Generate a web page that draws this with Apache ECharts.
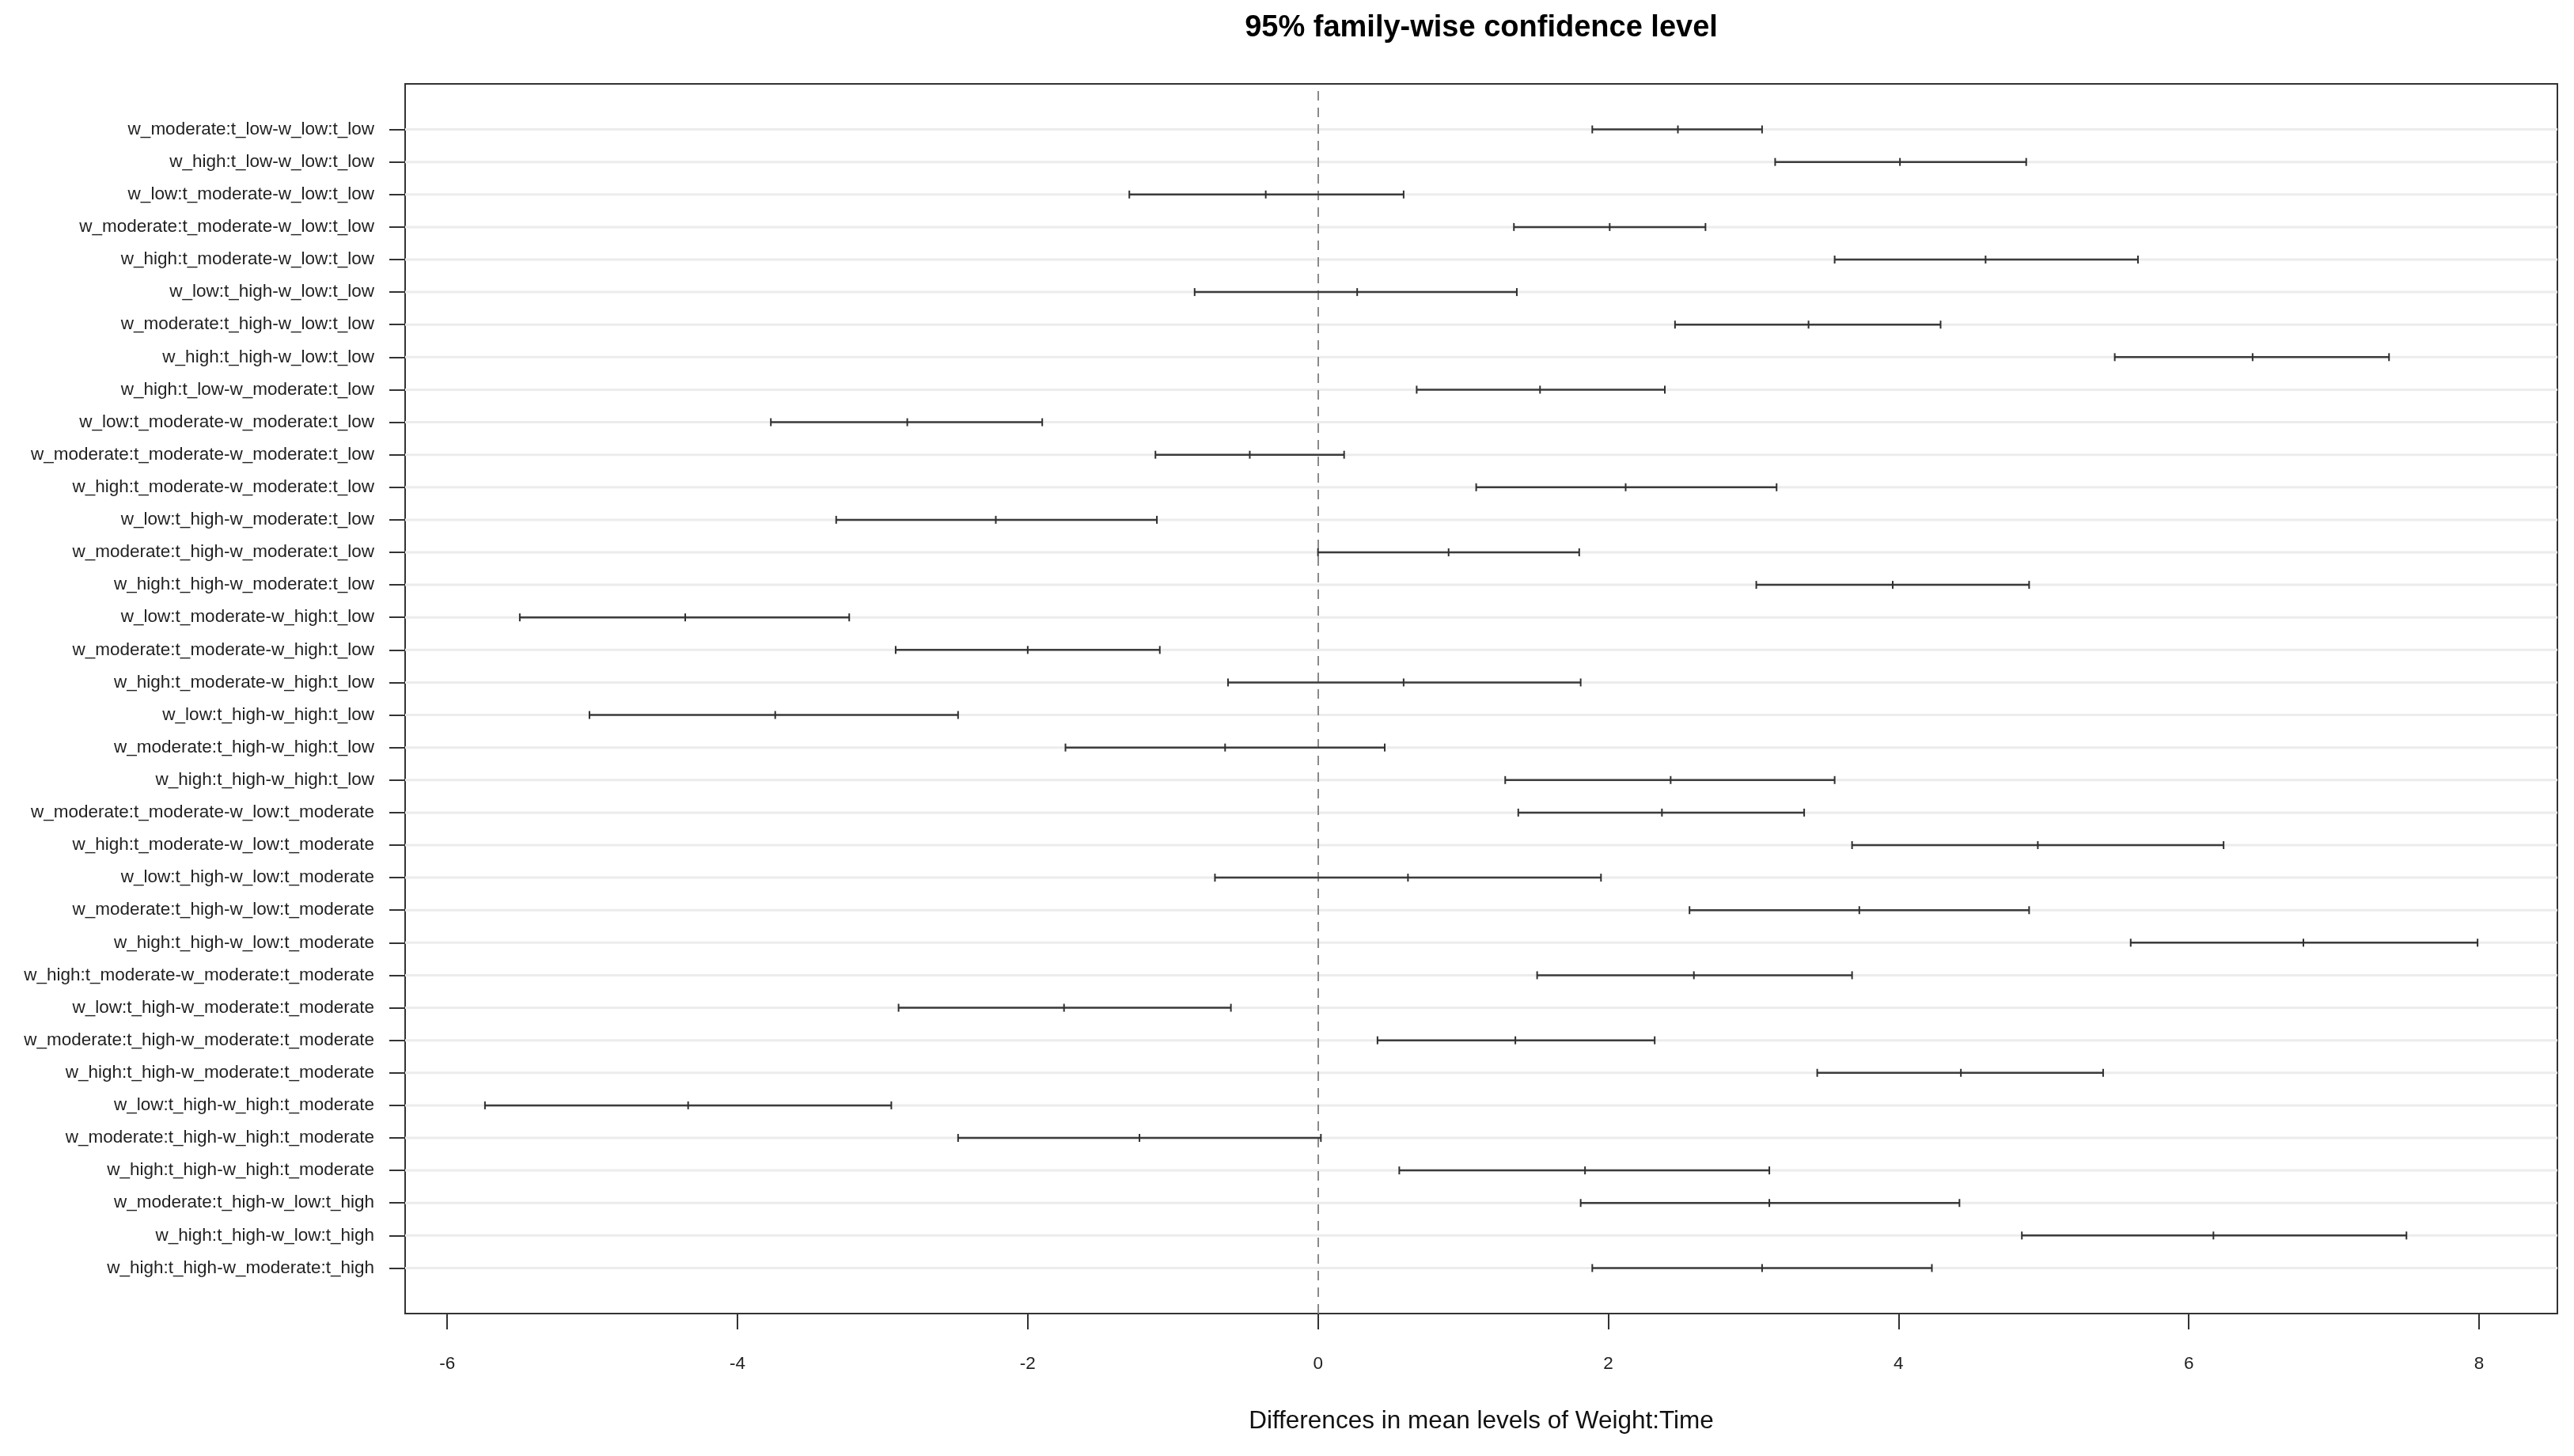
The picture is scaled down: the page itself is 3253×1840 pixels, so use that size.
<!DOCTYPE html>
<html>
<head>
<meta charset="utf-8">
<script src="https://cdn.jsdelivr.net/npm/echarts@6/dist/echarts.min.js"></script>
<style>
html,body{margin:0;padding:0;background:#ffffff;}
#chart{width:3253px;height:1840px;}
</style>
</head>
<body>
<div id="chart"></div>
<script>
// ---- data (top to bottom as in the reference) ----
const categories = [
  "w_moderate:t_low-w_low:t_low",
  "w_high:t_low-w_low:t_low",
  "w_low:t_moderate-w_low:t_low",
  "w_moderate:t_moderate-w_low:t_low",
  "w_high:t_moderate-w_low:t_low",
  "w_low:t_high-w_low:t_low",
  "w_moderate:t_high-w_low:t_low",
  "w_high:t_high-w_low:t_low",
  "w_high:t_low-w_moderate:t_low",
  "w_low:t_moderate-w_moderate:t_low",
  "w_moderate:t_moderate-w_moderate:t_low",
  "w_high:t_moderate-w_moderate:t_low",
  "w_low:t_high-w_moderate:t_low",
  "w_moderate:t_high-w_moderate:t_low",
  "w_high:t_high-w_moderate:t_low",
  "w_low:t_moderate-w_high:t_low",
  "w_moderate:t_moderate-w_high:t_low",
  "w_high:t_moderate-w_high:t_low",
  "w_low:t_high-w_high:t_low",
  "w_moderate:t_high-w_high:t_low",
  "w_high:t_high-w_high:t_low",
  "w_moderate:t_moderate-w_low:t_moderate",
  "w_high:t_moderate-w_low:t_moderate",
  "w_low:t_high-w_low:t_moderate",
  "w_moderate:t_high-w_low:t_moderate",
  "w_high:t_high-w_low:t_moderate",
  "w_high:t_moderate-w_moderate:t_moderate",
  "w_low:t_high-w_moderate:t_moderate",
  "w_moderate:t_high-w_moderate:t_moderate",
  "w_high:t_high-w_moderate:t_moderate",
  "w_low:t_high-w_high:t_moderate",
  "w_moderate:t_high-w_high:t_moderate",
  "w_high:t_high-w_high:t_moderate",
  "w_moderate:t_high-w_low:t_high",
  "w_high:t_high-w_low:t_high",
  "w_high:t_high-w_moderate:t_high"
];
const lwr = [1.89, 3.15, -1.30, 1.35, 3.56, -0.85, 2.46, 5.49, 0.68, -3.77, -1.12, 1.09,
             -3.32, 0.00, 3.02, -5.50, -2.91, -0.62, -5.02, -1.74, 1.29, 1.38, 3.68, -0.71,
             2.56, 5.60, 1.51, -2.89, 0.41, 3.44, -5.74, -2.48, 0.56, 1.81, 4.85, 1.89];
const diff = [2.48, 4.01, -0.36, 2.01, 4.60, 0.27, 3.38, 6.44, 1.53, -2.83, -0.47, 2.12,
              -2.22, 0.90, 3.96, -4.36, -2.00, 0.59, -3.74, -0.64, 2.43, 2.37, 4.96, 0.62,
              3.73, 6.79, 2.59, -1.75, 1.36, 4.43, -4.34, -1.23, 1.84, 3.11, 6.17, 3.06];
const upr = [3.06, 4.88, 0.59, 2.67, 5.65, 1.37, 4.29, 7.38, 2.39, -1.90, 0.18, 3.16,
             -1.11, 1.80, 4.90, -3.23, -1.09, 1.81, -2.48, 0.46, 3.56, 3.35, 6.24, 1.95,
             4.90, 7.99, 3.68, -0.60, 2.32, 5.41, -2.94, 0.02, 3.11, 4.42, 7.50, 4.23];
const xTicks = [-6, -4, -2, 0, 2, 4, 6, 8];
const titleText = "95% family-wise confidence level";
const xTitle = "Differences in mean levels of Weight:Time";

// ---- build ----
const n = categories.length;
const yVals = categories.map((c, i) => n - i);
const rows = categories.map((c, i) => [lwr[i], diff[i], upr[i], yVals[i]]);
const gridRows = yVals.map(v => [0, v]);

const FONT = "'Liberation Sans', Arial, Helvetica, sans-serif";
const INK = '#333333';

function renderGridRow(params, api) {
  const p = api.coord([api.value(0), api.value(1)]);
  const cs = params.coordSys;
  return {
    type: 'line',
    shape: { x1: cs.x, y1: p[1], x2: cs.x + cs.width, y2: p[1] },
    style: { stroke: '#ececec', lineWidth: 3 }
  };
}

function renderBar(params, api) {
  const y = api.value(3);
  const pL = api.coord([api.value(0), y]);
  const pM = api.coord([api.value(1), y]);
  const pU = api.coord([api.value(2), y]);
  const h = 5;
  const tickStyle = { stroke: '#2f2f2f', lineWidth: 2 };
  return {
    type: 'group',
    children: [
      { type: 'line', shape: { x1: pL[0], y1: pL[1], x2: pU[0], y2: pU[1] },
        style: { stroke: '#3c3c3c', lineWidth: 2.5 } },
      { type: 'line', shape: { x1: pL[0], y1: pL[1] - h, x2: pL[0], y2: pL[1] + h }, style: tickStyle },
      { type: 'line', shape: { x1: pM[0], y1: pM[1] - h, x2: pM[0], y2: pM[1] + h }, style: tickStyle },
      { type: 'line', shape: { x1: pU[0], y1: pU[1] - h, x2: pU[0], y2: pU[1] + h }, style: tickStyle }
    ]
  };
}

const chart = echarts.init(document.getElementById('chart'), null, { renderer: 'canvas' });
chart.setOption({
  backgroundColor: '#ffffff',
  animation: false,
  title: {
    text: titleText,
    left: 1872,
    top: 17,
    textAlign: 'center',
    padding: 0,
    textStyle: { fontFamily: FONT, fontSize: 38, fontWeight: 'bold', color: '#000000' }
  },
  grid: {
    left: 512, right: 21, top: 106, bottom: 180,
    show: true, borderColor: INK, borderWidth: 2, backgroundColor: 'transparent',
    containLabel: false, outerBoundsMode: 'none'
  },
  xAxis: {
    type: 'value',
    min: -6.29, max: 8.54,
    position: 'bottom',
    name: xTitle,
    nameLocation: 'middle',
    nameGap: 120,
    nameTextStyle: { fontFamily: FONT, fontSize: 31.5, color: '#111111' },
    axisLine: { show: false, onZero: false },
    axisTick: { show: true, inside: false, length: 20, customValues: xTicks,
                lineStyle: { color: INK, width: 2 } },
    axisLabel: { show: true, customValues: xTicks, margin: 52, fontFamily: FONT, fontSize: 22.5,
                 color: '#222222', formatter: v => String(v) },
    splitLine: { show: false },
    minorTick: { show: false }
  },
  yAxis: {
    type: 'value',
    min: -0.4, max: 37.4,
    position: 'left',
    axisLine: { show: false, onZero: false },
    axisTick: { show: true, inside: false, length: 20, customValues: yVals,
                lineStyle: { color: INK, width: 2 } },
    axisLabel: { show: true, customValues: yVals, margin: 39, fontFamily: FONT, fontSize: 22.5,
                 color: '#222222', formatter: v => categories[n - Math.round(v)] },
    splitLine: { show: false }
  },
  series: [
    {
      type: 'custom',
      name: 'rows',
      silent: true,
      z: 1,
      data: gridRows,
      encode: { x: 0, y: 1 },
      renderItem: renderGridRow,
      clip: true
    },
    {
      type: 'custom',
      name: 'intervals',
      z: 3,
      data: rows,
      encode: { x: [0, 1, 2], y: 3 },
      renderItem: renderBar,
      markLine: {
        silent: true,
        symbol: ['none', 'none'],
        label: { show: false },
        lineStyle: { type: [12, 9], color: '#8a8a8a', width: 2 },
        data: [{ xAxis: 0 }],
        z: 2
      }
    }
  ]
});
</script>
</body>
</html>
